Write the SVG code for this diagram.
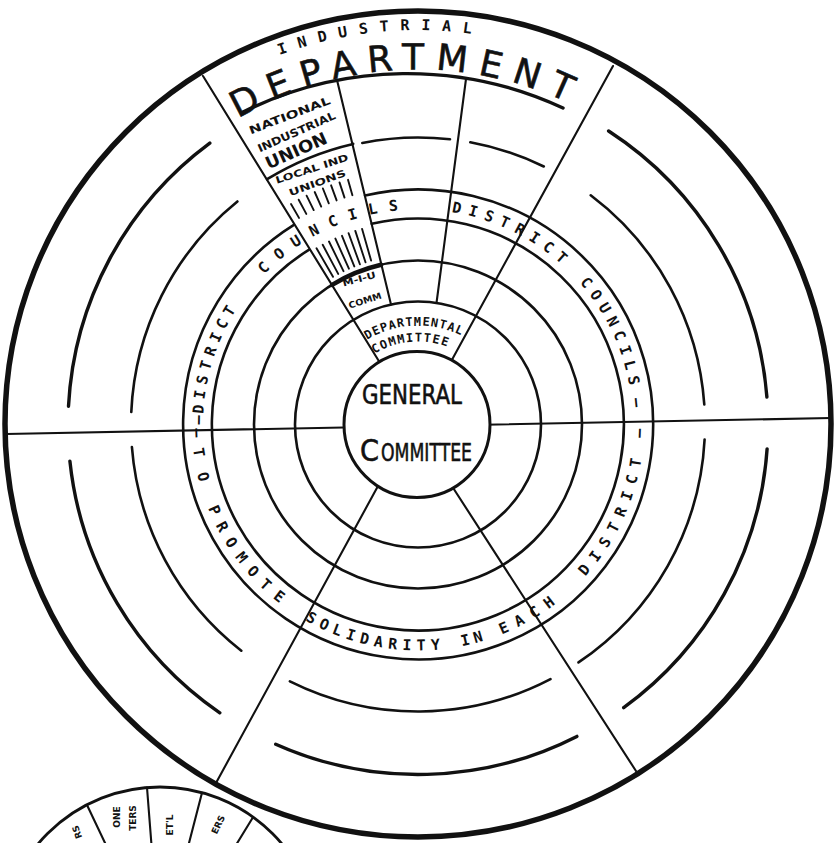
<svg xmlns="http://www.w3.org/2000/svg" width="835" height="843" viewBox="0 0 835 843">
<style>
.ln{fill:none;stroke:#111;stroke-linecap:round}
.ring{stroke-width:2.6}
.spoke{stroke-width:2.1}
.pin{stroke-width:2.6}
.pout{stroke-width:3.4}
.hatch{stroke-width:1.9}
.band{font-family:'DejaVu Sans Mono',monospace;font-weight:bold;font-size:15px;fill:#111}
.small{font-family:'DejaVu Sans Mono',monospace;font-weight:bold;font-size:12px;fill:#111}
.lab{font-family:'DejaVu Sans',sans-serif;font-weight:bold;fill:#111}
.hand{font-family:'DejaVu Sans',sans-serif;fill:#111;stroke:#111;stroke-width:0.6}
</style>
<defs>
<path id="topBand" d="M 203 424.5 A 215 215 0 0 1 633 424.5"/>
<path id="botBand" d="M 192 424.5 A 226 226 0 0 0 644 424.5"/>
<path id="deptPath" d="M 110.6 247 A 355 355 0 0 1 725.4 247"/>
<path id="indPath" d="M 76.4 227.25 A 394.5 394.5 0 0 1 759.6 227.25"/>
<path id="dcPath1" d="M 332.3 375 A 99 99 0 0 1 503.7 375"/>
<path id="dcPath2" d="M 346.1 383 A 83 83 0 0 1 489.9 383"/>
</defs>
<rect width="835" height="843" fill="#fff"/>

<g id="outer-circle">
<circle class="ln" cx="418" cy="424" r="413" stroke-width="5.5"/>
</g>

<g id="rings">
<circle class="ln ring" cx="418" cy="424.5" r="123"/>
<circle class="ln ring" cx="418" cy="424.5" r="164"/>
<path class="ln ring" d="M 371.7 223.8 A 206 206 0 1 1 308.8 249.8"/>
<path class="ln ring" d="M 365.1 195.5 A 235 235 0 1 1 293.5 225.2"/>
<path class="ln" stroke-width="4.5" d="M 332.1 284.8 A 164 164 0 0 1 381.1 264.7"/>
</g>

<g id="partial-arcs">
<path class="ln pout" d="M 608.6 131 A 350 350 0 0 1 766.9 397"/>
<path class="ln pin" d="M 590.7 195.3 A 287 287 0 0 1 704.3 404.5"/>
<path class="ln pout" d="M 767.1 448.9 A 350 350 0 0 1 623.7 707.7"/>
<path class="ln pin" d="M 704.6 439.5 A 287 287 0 0 1 578.5 662.4"/>
<path class="ln pout" stroke-width="4" d="M 576.9 736.4 A 350 350 0 0 1 275.7 744.2"/>
<path class="ln pin" d="M 550.5 679.1 A 287 287 0 0 1 289.9 681.3"/>
<path class="ln pout" d="M 219.8 712.9 A 350 350 0 0 1 69.9 461.1"/>
<path class="ln pin" d="M 241.3 650.7 A 287 287 0 0 1 131.9 447"/>
<path class="ln pout" d="M 68.5 406.2 A 350 350 0 0 1 209.8 143.1"/>
<path class="ln pin" d="M 131.3 412 A 287 287 0 0 1 237.4 201.5"/>
<path class="ln pout" d="M 243 112 A 370 370 0 0 1 563 108"/>
<path class="ln pin" d="M 267.1 179.2 A 288 288 0 0 1 353.2 143.9"/>
<path class="ln pin" d="M 362.3 143 A 287 287 0 0 1 450 139.3"/>
<path class="ln pin" d="M 470.3 142.3 A 287 287 0 0 1 543.8 166.5"/>
</g>

<g id="connectors">
<line class="ln spoke" x1="6" y1="434" x2="831" y2="418"/>
<line class="ln spoke" x1="203" y1="76" x2="385" y2="371"/>
<line class="ln spoke" x1="613" y1="66" x2="448" y2="367"/>
<line class="ln spoke" x1="216" y1="783" x2="378" y2="486"/>
<line class="ln spoke" x1="636" y1="771" x2="448" y2="480"/>
<line class="ln spoke" x1="337" y1="80" x2="391" y2="304.5"/>
<line class="ln spoke" x1="466" y1="79" x2="436.5" y2="303"/>
</g>

<g id="industrial-department">
<text class="band"><textPath href="#indPath" startOffset="271.6" letter-spacing="11.6">INDUSTRIAL</textPath></text>
<text class="hand" font-size="36" stroke-width="1.3"><textPath href="#deptPath" startOffset="182.8" letter-spacing="11.2">DEPARTMENT</textPath></text>
</g>

<g id="national-industrial-union">
<text class="lab" x="291" y="119" font-size="11" text-anchor="middle" textLength="86" lengthAdjust="spacingAndGlyphs" transform="rotate(-21 291 119)">NATIONAL</text>
<text class="lab" x="298" y="135.5" font-size="11" text-anchor="middle" textLength="84" lengthAdjust="spacingAndGlyphs" transform="rotate(-24 298 135.5)">INDUSTRIAL</text>
<text class="lab" x="298.6" y="156" font-size="17" text-anchor="middle" textLength="66" lengthAdjust="spacingAndGlyphs" transform="rotate(-24 298.6 156)">UNION</text>
</g>

<g id="local-industrial-unions">
<text class="lab" x="313" y="172" font-size="9.5" text-anchor="middle" textLength="76" lengthAdjust="spacingAndGlyphs" transform="rotate(-18 313 172)">LOCAL IND</text>
<text class="lab" x="318.5" y="186" font-size="9.5" text-anchor="middle" textLength="60" lengthAdjust="spacingAndGlyphs" transform="rotate(-20 318.5 186)">UNIONS</text>
<g class="ln hatch">
<line x1="291" y1="204" x2="299" y2="217.9"/>
<line x1="298.7" y1="199.7" x2="306.3" y2="213.9"/>
<line x1="306.6" y1="195.7" x2="313.7" y2="210.1"/>
<line x1="314.7" y1="192" x2="321.2" y2="206.6"/>
<line x1="322.9" y1="188.5" x2="328.8" y2="203.3"/>
<line x1="331.1" y1="185.3" x2="336.6" y2="200.4"/>
<line x1="339.5" y1="182.4" x2="344.5" y2="197.6"/>
<line x1="348" y1="179.8" x2="352.4" y2="195.2"/>
<line x1="316.5" y1="248.2" x2="333" y2="276.8"/>
<line x1="322.7" y1="244.8" x2="338.2" y2="273.9"/>
<line x1="329" y1="241.5" x2="343.5" y2="271.2"/>
<line x1="335.4" y1="238.6" x2="348.9" y2="268.7"/>
<line x1="342" y1="235.8" x2="354.3" y2="266.4"/>
<line x1="348.6" y1="233.2" x2="359.9" y2="264.3"/>
<line x1="355.3" y1="230.9" x2="365.5" y2="262.3"/>
<line x1="362.1" y1="228.9" x2="371.1" y2="260.6"/>
</g>
</g>

<g id="niu-committee">
<text class="lab" x="360" y="282" font-size="9" text-anchor="middle" textLength="34" lengthAdjust="spacingAndGlyphs" transform="rotate(-15 360 282)">M-I-U</text>
<text class="lab" x="366" y="303.5" font-size="9" text-anchor="middle" textLength="34" lengthAdjust="spacingAndGlyphs" transform="rotate(-18 366 303.5)">COMM</text>
</g>

<g id="district-councils">
<text class="band"><textPath href="#topBand" startOffset="0">—</textPath></text>
<text class="band"><textPath href="#topBand" startOffset="10.5" letter-spacing="5.44">DISTRICT</textPath></text>
<text class="band"><textPath href="#topBand" startOffset="165.8" letter-spacing="11.4">COUNCILS</textPath></text>
<text class="band"><textPath href="#topBand" startOffset="371.1" letter-spacing="7.31">DISTRICT</textPath></text>
<text class="band"><textPath href="#topBand" startOffset="520" letter-spacing="6.25">COUNCILS</textPath></text>
<text class="band"><textPath href="#topBand" startOffset="649">—</textPath></text>
<text class="band"><textPath href="#botBand" startOffset="4">—</textPath></text>
<text class="band"><textPath href="#botBand" startOffset="24.3" letter-spacing="16.2">TO</textPath></text>
<text class="band"><textPath href="#botBand" startOffset="85.8" letter-spacing="9.5">PROMOTE</textPath></text>
<text class="band"><textPath href="#botBand" startOffset="236.5" letter-spacing="5.6">SOLIDARITY</textPath></text>
<text class="band"><textPath href="#botBand" startOffset="399" letter-spacing="4.4">IN</textPath></text>
<text class="band"><textPath href="#botBand" startOffset="440.4" letter-spacing="8.7">EACH</textPath></text>
<text class="band"><textPath href="#botBand" startOffset="543" letter-spacing="8.5">DISTRICT</textPath></text>
<text class="band"><textPath href="#botBand" startOffset="696">—</textPath></text>
</g>

<g id="departmental-committee">
<text class="small" text-anchor="middle"><textPath href="#dcPath1" startOffset="99.4" letter-spacing="1">DEPARTMENTAL</textPath></text>
<text class="small" text-anchor="middle"><textPath href="#dcPath2" startOffset="79.4" letter-spacing="1.3">COMMITTEE</textPath></text>
</g>

<g id="general-committee">
<circle cx="417" cy="424.5" r="73" fill="#fff" stroke="#111" stroke-width="3"/>
<text class="hand" x="412" y="404" font-size="26" text-anchor="middle" textLength="100" lengthAdjust="spacingAndGlyphs">GENERAL</text>
<text class="hand" x="360" y="461" font-size="30" textLength="19" lengthAdjust="spacingAndGlyphs">C</text>
<text class="hand" x="381" y="461" font-size="24" textLength="91" lengthAdjust="spacingAndGlyphs">OMMITTEE</text>
</g>

<g id="second-circle">
<circle class="ln" cx="160" cy="946" r="159" stroke-width="2.8"/>
<line class="ln spoke" x1="87" y1="805" x2="106" y2="845"/>
<line class="ln spoke" x1="147" y1="787.5" x2="151.5" y2="845"/>
<line class="ln spoke" x1="202" y1="792.7" x2="188.5" y2="845"/>
<line class="ln spoke" x1="253" y1="817.3" x2="236" y2="845"/>
<text class="lab" x="80" y="831" font-size="9" text-anchor="middle" transform="rotate(-110 80 831)">RS</text>
<text class="lab" x="120" y="817" font-size="9" text-anchor="middle" transform="rotate(-90 120 817)">ONE</text>
<text class="lab" x="136" y="818" font-size="9" text-anchor="middle" transform="rotate(-90 136 818)">TERS</text>
<text class="lab" x="173" y="825" font-size="9" text-anchor="middle" transform="rotate(-90 173 825)">ET'L</text>
<text class="lab" x="221" y="826" font-size="9" text-anchor="middle" transform="rotate(-65 221 826)">ERS</text>
</g>
</svg>
